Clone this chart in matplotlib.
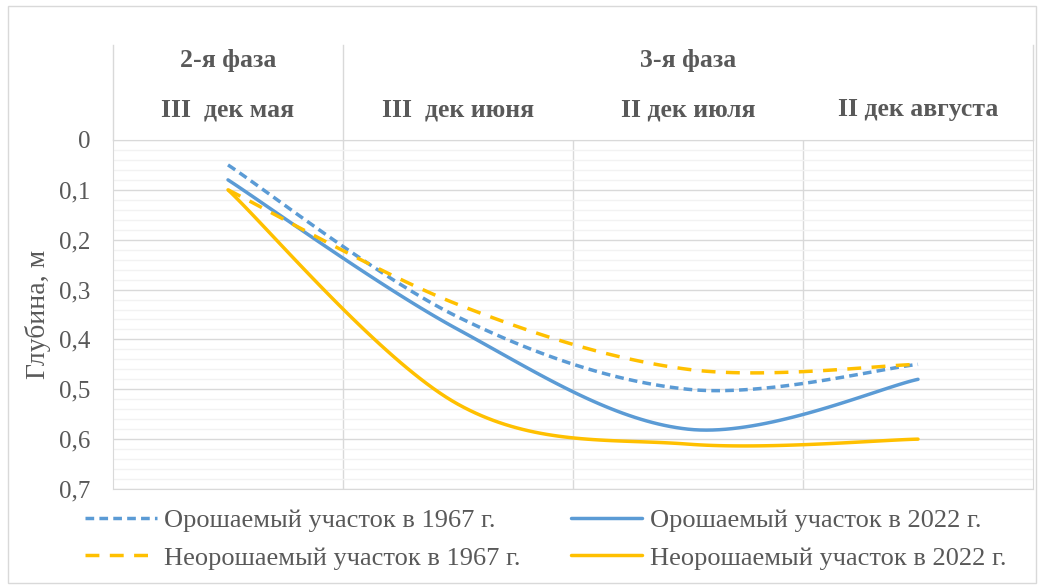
import matplotlib
matplotlib.use('Agg')
import matplotlib.pyplot as plt
import matplotlib.transforms as mtransforms
from matplotlib.patches import Rectangle
import numpy as np

plt.rcParams['font.family'] = ['Liberation Serif', 'DejaVu Serif']

categories = ['III  дек мая', 'III  дек июня', 'II дек июля', 'II дек августа']
phases = ['2-я фаза', '3-я фаза']
irr_1967 = [0.05, 0.355, 0.50, 0.45]
irr_2022 = [0.08, 0.38, 0.58, 0.48]
nonirr_1967 = [0.10, 0.33, 0.46, 0.45]
nonirr_2022 = [0.10, 0.53, 0.61, 0.60]
series_names = ['Орошаемый участок в 1967 г.', 'Орошаемый участок в 2022 г.',
                'Неорошаемый участок в 1967 г.', 'Неорошаемый участок в 2022 г.']

BLUE = '#5B9BD5'
YELLOW = '#FFC000'
GREY = '#595959'


def smooth(xs, ys, n=40):
    # Excel-like smoothed line (Catmull-Rom as cubic bezier)
    p = np.column_stack([xs, ys]).astype(float)
    p = np.vstack([p[0], p, p[-1]])
    out = []
    t = np.linspace(0, 1, n)[:, None]
    for i in range(1, len(p) - 2):
        p0, p1, p2, p3 = p[i - 1], p[i], p[i + 1], p[i + 2]
        c1 = p1 + (p2 - p0) / 6
        c2 = p2 - (p3 - p1) / 6
        seg = ((1 - t) ** 3) * p1 + 3 * ((1 - t) ** 2) * t * c1 + 3 * (1 - t) * t ** 2 * c2 + t ** 3 * p2
        out.append(seg)
    s = np.vstack(out)
    return s[:, 0], s[:, 1]


fig = plt.figure(figsize=(10.4, 5.86), dpi=100)
fig.patches.append(Rectangle((8 / 1040, 3 / 586), 1028 / 1040, 577 / 586, transform=fig.transFigure,
                             fill=False, edgecolor='#D9D9D9', lw=1))
ax = fig.add_axes([113 / 1040, 97 / 586, 920 / 1040, 349 / 586])

x = np.arange(len(categories))
styles = [(irr_1967, BLUE, (0, (2.5, 1.5))),
          (irr_2022, BLUE, '-'),
          (nonirr_1967, YELLOW, (0, (4, 3))),
          (nonirr_2022, YELLOW, '-')]
handles = []
for (vals, col, ls), name in zip(styles, series_names):
    sx, sy = smooth(x, vals)
    h, = ax.plot(sx, sy, color=col, ls=ls, lw=2.5, label=name, solid_capstyle='round')
    handles.append(h)

ax.set_xlim(-0.5, 3.5)
ax.set_ylim(0.7, 0)
ax.set_yticks(np.arange(0, 0.71, 0.1))
ax.set_yticklabels([('%.1f' % v).replace('.', ',') if v > 0 else '0' for v in np.arange(0, 0.71, 0.1)])
ax.set_yticks(np.arange(0, 0.701, 0.02), minor=True)
ax.set_xticks([0.5, 1.5, 2.5])
ax.set_xticklabels([])
ax.grid(True, which='major', axis='both', color='#D9D9D9', lw=1)
ax.grid(True, which='minor', axis='y', color='#F2F2F2', lw=1)
ax.set_axisbelow(True)
ax.tick_params(which='both', length=0)
ax.tick_params(axis='y', labelsize=18, labelcolor=GREY, pad=16)
for sp in ax.spines.values():
    sp.set_color('#D9D9D9')
ax.set_ylabel('Глубина, м', fontsize=20, color=GREY, labelpad=6)

# header with phases and decades
tr = mtransforms.blended_transform_factory(ax.transData, ax.transAxes)
for i, c in enumerate(categories):
    ax.text(i, 1.086, c, transform=tr, ha='center', va='center', fontsize=18.5,
            fontweight='bold', color=GREY)
ax.text(0, 1.229, phases[0], transform=tr, ha='center', va='center', fontsize=18.5,
        fontweight='bold', color=GREY)
ax.text(2, 1.229, phases[1], transform=tr, ha='center', va='center', fontsize=18.5,
        fontweight='bold', color=GREY)
for xv in [-0.5, 0.5, 3.5]:
    ax.plot([xv, xv], [1.0, 1.272], transform=tr, color='#D9D9D9', lw=1, clip_on=False)

fig.legend(handles=[handles[0], handles[2], handles[1], handles[3]],
           labels=[series_names[0], series_names[2], series_names[1], series_names[3]],
           ncol=2, loc='center', bbox_to_anchor=(546 / 1040, 1 - 539 / 586), frameon=False,
           fontsize=19, handlelength=2.7, columnspacing=1.9, labelspacing=0.55,
           handletextpad=0.3, labelcolor=GREY)

fig.savefig('out.png', dpi=100)
